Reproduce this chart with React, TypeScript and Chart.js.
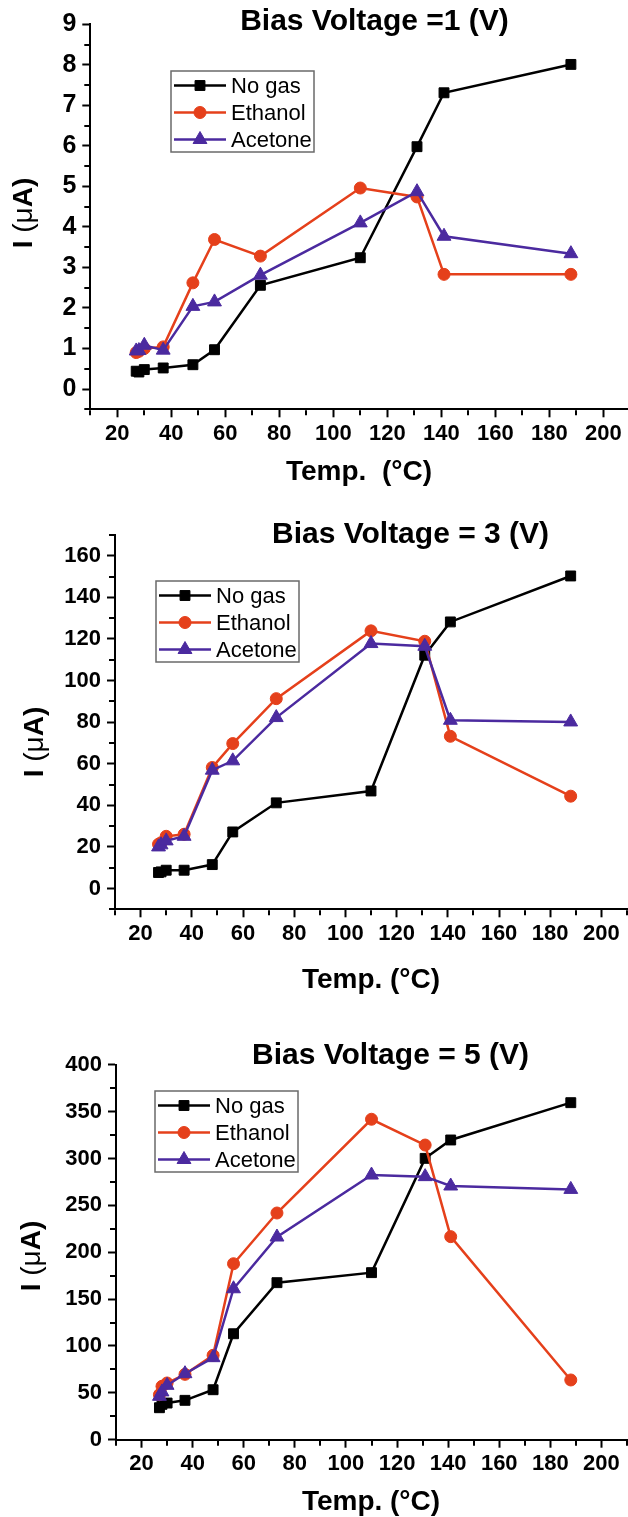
import { useEffect, useRef } from "react";
import { Chart, registerables } from "chart.js";

Chart.register(...registerables);

// ---------- data ----------
const temperatures = [27, 28, 30, 37, 48, 56, 73, 110, 131, 141, 188];
const seriesNames = ["No gas", "Ethanol", "Acetone"];

const noGas1V = [0.44, 0.42, 0.48, 0.52, 0.6, 0.97, 2.56, 3.24, 5.98, 7.31, 8.01];
const ethanol1V = [0.9, 0.93, 1.0, 1.04, 2.62, 3.69, 3.28, 4.96, 4.74, 2.83, 2.83];
const acetone1V = [0.94, 0.95, 1.08, 0.96, 2.04, 2.15, 2.81, 4.1, 4.87, 3.77, 3.34];

const noGas3V = [7.7, 8.0, 8.8, 8.8, 11.5, 27.2, 41.2, 46.9, 112.2, 128.2, 150.3];
const ethanol3V = [21.3, 22, 25.1, 26.1, 58.2, 69.7, 91.3, 123.9, 118.9, 73.2, 44.4];
const acetone3V = [20, 21, 22.9, 25.1, 56.9, 61.4, 82.2, 117.8, 116.5, 80.9, 80.1];

const noGas5V = [34.1, 37.7, 39.1, 42, 53.3, 113, 167.5, 178.2, 300.1, 319.7, 359.5];
const ethanol5V = [48, 57, 60.5, 69.7, 90, 187.7, 241.8, 341.8, 314.3, 216.6, 63.7];
const acetone5V = [46.3, 51, 58, 70.4, 87.5, 161, 216.2, 282.3, 280.6, 270.6, 267];

const xTickLabels = [20, 40, 60, 80, 100, 120, 140, 160, 180, 200];
const yTickLabels1V = [0, 1, 2, 3, 4, 5, 6, 7, 8, 9];
const yTickLabels3V = [0, 20, 40, 60, 80, 100, 120, 140, 160];
const yTickLabels5V = [0, 50, 100, 150, 200, 250, 300, 350, 400];

// ---------- styles / layout ----------
const FONT = "'Liberation Sans', Arial, Helvetica, sans-serif";
const CANVAS_W = 640;
const LINE_COLORS = ["#000000", "#E5401B", "#4B2A9F"];
const POINT_STYLES = ["rect", "circle", "triangle"];
const POINT_RADII = [7, 6, 8];

type PanelCfg = {
  title: string;
  xTitle: string;
  top: number;
  height: number;
  series: number[][];
  yLabels: number[];
  yMin: number;
  yMax: number;
  yStep: number;
  yFont: number;
  area: { left: number; right: number; top: number; bottom: number };
  titlePos: [number, number];
  xTitlePos: [number, number];
  yTitlePos: [number, number];
  legendPos: [number, number];
};

const panels: PanelCfg[] = [
  {
    title: "Bias Voltage =1 (V)",
    xTitle: "Temp.  (\u00B0C)",
    top: 0,
    height: 500,
    series: [noGas1V, ethanol1V, acetone1V],
    yLabels: yTickLabels1V,
    yMin: -0.5,
    yMax: 9,
    yStep: 0.5,
    yFont: 25,
    area: { left: 90.3, right: 630.3, top: 24.3, bottom: 409.3 },
    titlePos: [374.5, 22],
    xTitlePos: [359, 472],
    yTitlePos: [24, 213],
    legendPos: [171, 71],
  },
  {
    title: "Bias Voltage = 3 (V)",
    xTitle: "Temp. (\u00B0C)",
    top: 500,
    height: 517,
    series: [noGas3V, ethanol3V, acetone3V],
    yLabels: yTickLabels3V,
    yMin: -10,
    yMax: 170,
    yStep: 10,
    yFont: 22,
    area: { left: 115, right: 627, top: 35, bottom: 409.3 },
    titlePos: [410.5, 35],
    xTitlePos: [371, 480],
    yTitlePos: [35, 242],
    legendPos: [156, 81],
  },
  {
    title: "Bias Voltage = 5 (V)",
    xTitle: "Temp. (\u00B0C)",
    top: 1017,
    height: 500,
    series: [noGas5V, ethanol5V, acetone5V],
    yLabels: yTickLabels5V,
    yMin: 0,
    yMax: 400,
    yStep: 25,
    yFont: 22,
    area: { left: 116, right: 627, top: 47.7, bottom: 422.7 },
    titlePos: [390.5, 38.3],
    xTitlePos: [371, 485],
    yTitlePos: [32, 239],
    legendPos: [155, 74],
  },
];

function drawMarker(ctx: CanvasRenderingContext2D, style: string, x: number, y: number, r: number, color: string) {
  ctx.save();
  ctx.fillStyle = color;
  ctx.strokeStyle = color;
  ctx.lineWidth = 1;
  ctx.beginPath();
  if (style === "rect") {
    const s = Math.SQRT1_2 * r;
    ctx.rect(x - s, y - s, 2 * s, 2 * s);
  } else if (style === "circle") {
    ctx.arc(x, y, r, 0, Math.PI * 2);
  } else {
    const a = (2 * Math.PI) / 3;
    ctx.moveTo(x, y - r);
    ctx.lineTo(x + Math.sin(a) * r, y - Math.cos(a) * r);
    ctx.lineTo(x + Math.sin(2 * a) * r, y - Math.cos(2 * a) * r);
    ctx.closePath();
  }
  ctx.fill();
  ctx.stroke();
  ctx.restore();
}

function makeOverlay(p: PanelCfg) {
  return {
    id: "overlay",
    afterDraw(chart: any) {
      const ctx: CanvasRenderingContext2D = chart.ctx;
      const ca = chart.chartArea;
      const xs = chart.scales.x;
      const ys = chart.scales.y;
      ctx.save();
      // minor ticks
      ctx.strokeStyle = "#000";
      ctx.lineWidth = 2;
      ctx.beginPath();
      xs.ticks.forEach((t: any) => {
        if (!xTickLabels.includes(t.value)) {
          const px = Math.round(xs.getPixelForValue(t.value));
          ctx.moveTo(px, ca.bottom + 1);
          ctx.lineTo(px, ca.bottom + 6);
        }
      });
      ys.ticks.forEach((t: any) => {
        if (!p.yLabels.includes(t.value)) {
          const py = Math.round(ys.getPixelForValue(t.value));
          ctx.moveTo(ca.left - 1, py);
          ctx.lineTo(ca.left - 6, py);
        }
      });
      ctx.stroke();

      // title
      ctx.fillStyle = "#000";
      ctx.textBaseline = "middle";
      ctx.textAlign = "center";
      ctx.font = `bold 30px ${FONT}`;
      ctx.fillText(p.title, p.titlePos[0], p.titlePos[1]);

      // x title
      ctx.font = `bold 28px ${FONT}`;
      ctx.fillText(p.xTitle, p.xTitlePos[0], p.xTitlePos[1]);

      // y title (rotated)
      ctx.save();
      ctx.translate(p.yTitlePos[0], p.yTitlePos[1]);
      ctx.rotate(-Math.PI / 2);
      ctx.textAlign = "left";
      const pieces: [string, string][] = [
        ["I ", `bold 28px ${FONT}`],
        ["(\u03BC", `28px ${FONT}`],
        ["A)", `bold 28px ${FONT}`],
      ];
      let total = 0;
      pieces.forEach(([s, f]) => {
        ctx.font = f;
        total += ctx.measureText(s).width;
      });
      let cx = -total / 2;
      pieces.forEach(([s, f]) => {
        ctx.font = f;
        ctx.fillText(s, cx, 0);
        cx += ctx.measureText(s).width;
      });
      ctx.restore();

      // legend
      const [lx, ly] = p.legendPos;
      const lw = 143;
      const lh = 81;
      ctx.fillStyle = "#ffffff";
      ctx.fillRect(lx, ly, lw, lh);
      ctx.strokeStyle = "#6a6a6a";
      ctx.lineWidth = 1.5;
      ctx.strokeRect(lx, ly, lw, lh);
      ctx.font = `22px ${FONT}`;
      ctx.textAlign = "left";
      ctx.textBaseline = "middle";
      seriesNames.forEach((name, i) => {
        const ry = ly + 14.5 + i * 27;
        ctx.strokeStyle = LINE_COLORS[i];
        ctx.lineWidth = 2.5;
        ctx.beginPath();
        ctx.moveTo(lx + 3, ry);
        ctx.lineTo(lx + 55, ry);
        ctx.stroke();
        drawMarker(ctx, POINT_STYLES[i], lx + 29, ry, POINT_RADII[i], LINE_COLORS[i]);
        ctx.fillStyle = "#000";
        ctx.fillText(name, lx + 60, ry + 1);
      });
      ctx.restore();
    },
  };
}

function Panel({ p }: { p: PanelCfg }) {
  const ref = useRef<HTMLCanvasElement>(null);
  useEffect(() => {
    if (!ref.current) return;
    const chart = new Chart(ref.current, {
      type: "line",
      data: {
        datasets: p.series.map((vals, i) => ({
          label: seriesNames[i],
          data: temperatures.map((t, j) => ({ x: t, y: vals[j] })),
          borderColor: LINE_COLORS[i],
          backgroundColor: LINE_COLORS[i],
          pointBackgroundColor: LINE_COLORS[i],
          pointBorderColor: LINE_COLORS[i],
          pointStyle: POINT_STYLES[i] as any,
          pointRadius: POINT_RADII[i],
          pointBorderWidth: 1,
          borderWidth: 2.5,
          tension: 0,
          order: 3 - i,
        })),
      },
      options: {
        animation: false,
        responsive: false,
        events: [],
        layout: {
          padding: { left: 0, top: p.area.top, right: CANVAS_W - p.area.right, bottom: 0 },
        },
        plugins: {
          legend: { display: false },
          tooltip: { enabled: false },
          title: { display: false },
        },
        scales: {
          x: {
            type: "linear",
            min: 10,
            max: 210,
            afterFit: (s: any) => {
              s.height = p.height - p.area.bottom;
            },
            ticks: {
              stepSize: 10,
              autoSkip: false,
              maxRotation: 0,
              minRotation: 0,
              padding: 3,
              color: "#000",
              font: { family: FONT, size: 22, weight: "bold" },
              callback: (v: any) => (xTickLabels.includes(Number(v)) ? String(v) : ""),
            },
            grid: {
              drawOnChartArea: false,
              drawTicks: true,
              tickLength: 8,
              tickWidth: 2,
              tickColor: (c: any) => (c.tick && xTickLabels.includes(c.tick.value) ? "#000" : "rgba(0,0,0,0)"),
            },
            border: { display: true, color: "#000", width: 2 },
          },
          y: {
            type: "linear",
            min: p.yMin,
            max: p.yMax,
            afterFit: (s: any) => {
              s.width = p.area.left;
            },
            ticks: {
              stepSize: p.yStep,
              autoSkip: false,
              padding: 6,
              color: "#000",
              font: { family: FONT, size: p.yFont, weight: "bold" },
              callback: (v: any) => (p.yLabels.includes(Number(v)) ? String(v) : ""),
            },
            grid: {
              drawOnChartArea: false,
              drawTicks: true,
              tickLength: 8,
              tickWidth: 2,
              tickColor: (c: any) => (c.tick && p.yLabels.includes(c.tick.value) ? "#000" : "rgba(0,0,0,0)"),
            },
            border: { display: true, color: "#000", width: 2 },
          },
        },
      },
      plugins: [makeOverlay(p)],
    } as any);
    return () => chart.destroy();
  }, [p]);
  return (
    <canvas
      ref={ref}
      width={CANVAS_W}
      height={p.height}
      style={{ position: "absolute", left: 0, top: p.top }}
    />
  );
}

export default function App() {
  return (
    <div
      style={{
        position: "absolute",
        left: 0,
        top: 0,
        width: 628,
        height: 1517,
        overflow: "hidden",
        background: "#fff",
      }}
    >
      {panels.map((p, i) => (
        <Panel key={i} p={p} />
      ))}
    </div>
  );
}
